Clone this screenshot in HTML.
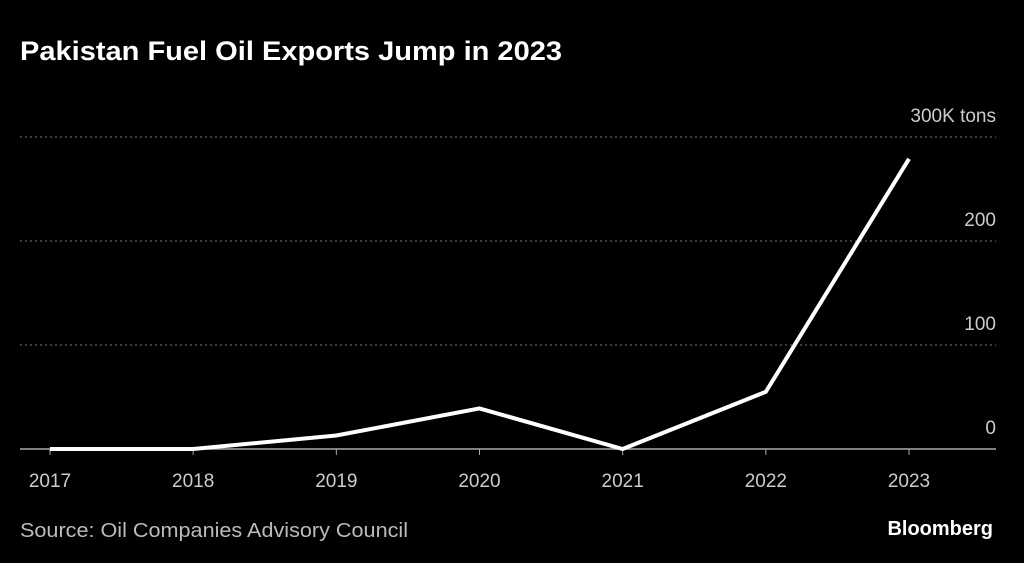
<!DOCTYPE html>
<html><head><meta charset="utf-8"><style>
html,body{margin:0;padding:0;background:#000;width:1024px;height:563px;overflow:hidden}
svg{display:block;font-family:"Liberation Sans",sans-serif}
</style></head><body>
<svg id="chart" width="1024" height="563">
<text x="20" y="60" fill="#fff" font-size="27" font-weight="bold" textLength="542" lengthAdjust="spacingAndGlyphs">Pakistan Fuel Oil Exports Jump in 2023</text>
<g id="grid"></g>
<g id="xlabels"></g>
<path id="line" fill="none" stroke="#fff" stroke-width="4" stroke-linejoin="miter"></path>
<text x="20" y="537" fill="#bbb" font-size="20" textLength="388" lengthAdjust="spacingAndGlyphs">Source: Oil Companies Advisory Council</text>
<text x="993" y="535" fill="#fff" font-size="20" font-weight="bold" text-anchor="end">Bloomberg</text>
</svg>
<script>
const categories=["2017","2018","2019","2020","2021","2022","2023"];
const values=[0,0,13,39,0,55,279];
const yTicks=[0,100,200,300];
const yTickLabels=["0","100","200","300K tons"];
const NS="http://www.w3.org/2000/svg";
const x=i=>50+i*(909-50)/6;
const y=v=>449-v*1.04;
const grid=document.getElementById('grid');
yTicks.forEach((t,i)=>{
  const l=document.createElementNS(NS,'line');
  l.setAttribute('x1',20);l.setAttribute('x2',996);
  l.setAttribute('y1',y(t));l.setAttribute('y2',y(t));
  l.setAttribute('stroke',t===0?'#aaa':'#777');
  l.setAttribute('stroke-width',t===0?1.5:1);
  if(t!==0)l.setAttribute('stroke-dasharray','2,3');
  
  
  grid.appendChild(l);
  const tx=document.createElementNS(NS,'text');
  tx.setAttribute('x',996);tx.setAttribute('y',y(t)-15);
  tx.setAttribute('text-anchor','end');tx.setAttribute('fill','#ccc');tx.setAttribute('font-size','19');
  tx.textContent=yTickLabels[i];
  
  
  grid.appendChild(tx);
});
const xl=document.getElementById('xlabels');
categories.forEach((c,i)=>{
  const tk=document.createElementNS(NS,'line');
  tk.setAttribute('x1',x(i));tk.setAttribute('x2',x(i));tk.setAttribute('y1',449);tk.setAttribute('y2',455);
  tk.setAttribute('stroke','#aaa');
  
  
  xl.appendChild(tk);
  const t=document.createElementNS(NS,'text');
  t.setAttribute('x',x(i));t.setAttribute('y',487);t.setAttribute('text-anchor','middle');
  t.setAttribute('fill','#ccc');t.setAttribute('font-size','19');
  t.textContent=c;
  
  
  xl.appendChild(t);
});
document.getElementById('line').setAttribute('d',values.map((v,i)=>(i?'L':'M')+x(i)+','+y(v)).join(' '));
</script>
</body></html>
